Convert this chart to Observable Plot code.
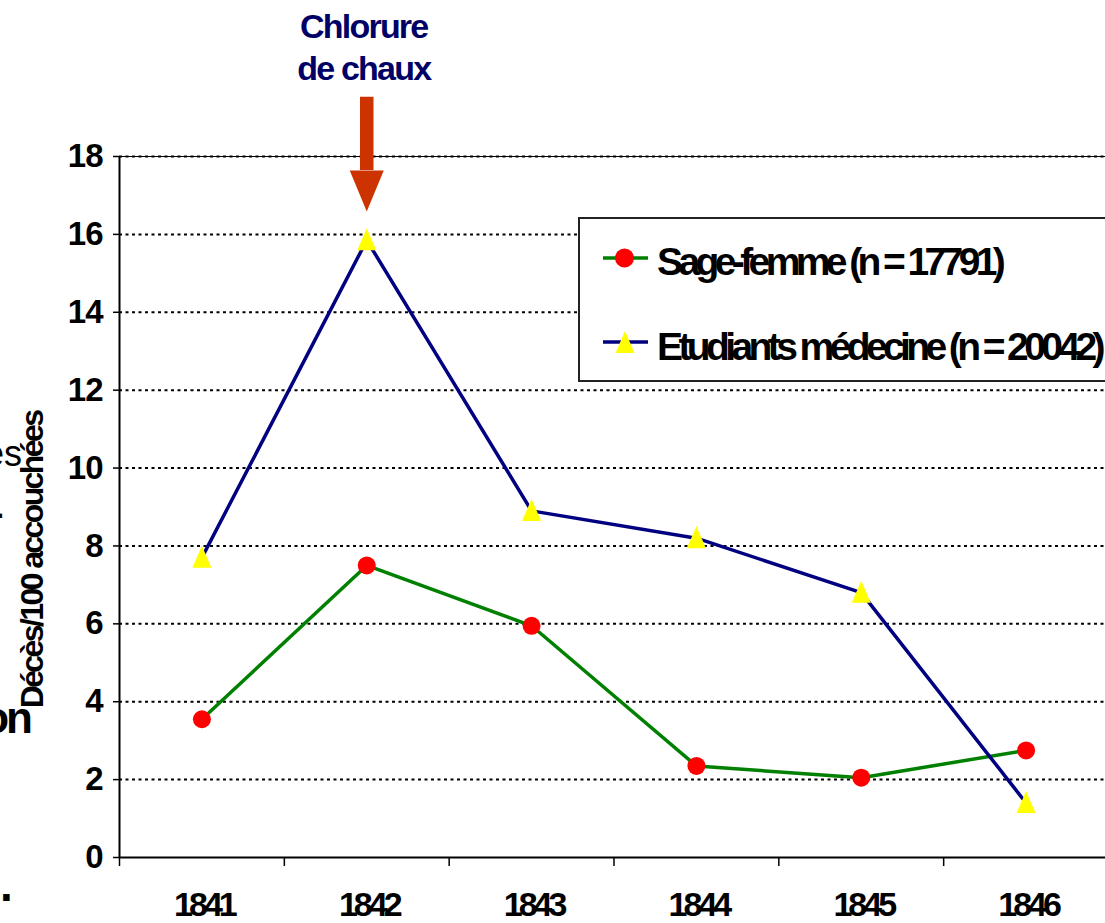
<!DOCTYPE html>
<html><head><meta charset="utf-8">
<script src="https://cdn.jsdelivr.net/npm/d3@7"></script>
<script src="https://cdn.jsdelivr.net/npm/@observablehq/plot@0.6"></script>
<style>
html,body{margin:0;padding:0;background:#fff;overflow:hidden}
#wrap{position:relative;width:1105px;height:923px;overflow:hidden;background:#fff}
#wrap > svg{position:absolute;left:0;top:0}
</style></head><body><div id="wrap"></div>
<script>
// ---- data ----
const years = [1841, 1842, 1843, 1844, 1845, 1846];
const sageFemme = [3.55, 7.5, 5.95, 2.35, 2.05, 2.75];
const etudiants = [7.7, 15.85, 8.9, 8.2, 6.8, 1.4];
const yTicks = [0, 2, 4, 6, 8, 10, 12, 14, 16, 18];
const seriesNames = ["Sage-femme (n = 17791)", "Etudiants médecine (n = 20042)"];
const seriesColors = ["#008000", "#000080"];
const markerColors = ["#ff0000", "#ffff00"];
const yLabel = "Décès/100 accouchées";
const annotationLines = ["Chlorure", "de chaux"];
const annotationYear = 1842;
const annotationY = [21.33, 20.25];   // text line centres (data units)
const arrowY = [19.52, 17.64];        // shaft top, head base (data units)
const ghostTexts = ["es", ".", "on", "."];

// ---- chart ----
const F = "'Liberation Sans', Arial, sans-serif";
const xDomain = [years[0] - 0.5, years[years.length - 1] + 0.5];
const boundaries = years.map(y => y - 0.5);
const idx = d3.range(years.length);
const triangle = {draw(c) { c.moveTo(0, -12); c.lineTo(9.5, 10); c.lineTo(-9.5, 10); c.closePath(); }};
const arrowHead = {draw(c) { c.moveTo(-17, 0); c.lineTo(17, 0); c.lineTo(0, 41); c.closePath(); }};

const chart = Plot.plot({
  width: 1105, height: 923,
  marginLeft: 119, marginRight: -3, marginTop: 156, marginBottom: 66,
  x: {type: "linear", domain: xDomain},
  y: {domain: [0, 18]},
  style: {fontFamily: F, background: "white", overflow: "visible"},
  marks: [
    Plot.ruleY(yTicks.filter(v => v > 0), {y: d => d, stroke: "#000", strokeWidth: 2, strokeDasharray: "3,3.5"}),
    Plot.ruleY([yTicks[yTicks.length - 1]], {y: d => d, stroke: "#000", strokeWidth: 1}),
    Plot.ruleY([0], {y: d => d, stroke: "#000", strokeWidth: 2}),
    Plot.ruleX([xDomain[0]], {x: d => d, y1: 0, y2: 18, stroke: "#000", strokeWidth: 2}),
    Plot.axisY({ticks: yTicks, tickSize: 6, tickFormat: () => "", strokeWidth: 1.5}),
    Plot.axisX({ticks: boundaries, tickSize: 9, tickFormat: () => "", strokeWidth: 1.5}),
    Plot.text(yTicks, {y: d => d, frameAnchor: "left", dx: -17, textAnchor: "end", text: d => String(d),
      fontSize: 33, fontWeight: "bold", fill: "#000"}),
    Plot.text(years, {x: d => d, frameAnchor: "bottom", dy: 34, dx: 2, lineAnchor: "top", text: d => String(d),
      fontSize: 34, fontWeight: "bold", fill: "#000"}),
    Plot.line(idx, {x: i => years[i], y: i => sageFemme[i], stroke: seriesColors[0], strokeWidth: 3.5}),
    Plot.dot(idx, {x: i => years[i], y: i => sageFemme[i], r: 9, fill: markerColors[0]}),
    Plot.line(idx, {x: i => years[i], y: i => etudiants[i], stroke: seriesColors[1], strokeWidth: 3.5}),
    Plot.dot(idx, {x: i => years[i], y: i => etudiants[i], symbol: triangle, fill: markerColors[1]}),
    Plot.ruleX([annotationYear], {x: d => d, y1: () => arrowY[0], y2: () => arrowY[1], stroke: "#cc3300", strokeWidth: 13.5}),
    Plot.dot([annotationYear], {x: d => d, y: () => arrowY[1], symbol: arrowHead, fill: "#cc3300"}),
    Plot.text(annotationLines, {x: () => annotationYear, y: (d, i) => annotationY[i], text: d => d, dx: -3,
      fontSize: 34, fontWeight: "bold", fill: "#000066"})
  ]
});
// condensed lettering, matched by content
const yearStr = years.map(String);
d3.select(chart).selectAll("text").each(function() {
  const t = this.textContent;
  if (yearStr.includes(t)) this.style.letterSpacing = "-4px";
  else if (annotationLines.includes(t)) this.style.letterSpacing = "-1.8px";
  else if (/^\d+$/.test(t)) this.style.letterSpacing = "-1px";
});

const wrap = document.getElementById("wrap");
wrap.appendChild(chart);

// ---- overlay: axis title, legend, clipped fragments ----
const ov = d3.create("svg").attr("width", 1105).attr("height", 923)
  .style("font-family", F).style("font-weight", "bold");

// clipped fragments at the left edge
ov.append("text").attr("x", 22).attr("y", 466).attr("text-anchor", "end").attr("font-size", 36)
  .attr("font-weight", "normal").text(ghostTexts[0]);
ov.append("text").attr("x", 4).attr("y", 518).attr("text-anchor", "end").attr("font-size", 30).text(ghostTexts[1]);
ov.append("text").attr("x", 30).attr("y", 733).attr("text-anchor", "end").attr("font-size", 44)
  .style("letter-spacing", "-3px").text(ghostTexts[2]);
ov.append("text").attr("x", 0).attr("y", 901).attr("font-size", 46).text(ghostTexts[3]);

// y axis title
ov.append("text").attr("transform", "translate(43,560) rotate(-90)").attr("text-anchor", "middle")
  .attr("font-size", 32).style("letter-spacing", "-2.6px").text(yLabel);

// legend
const lg = ov.append("g");
lg.append("rect").attr("x", 579).attr("y", 218).attr("width", 560).attr("height", 163)
  .attr("fill", "white").attr("stroke", "#222").attr("stroke-width", 2);
const rowY = [258, 342];
const textY = [275, 360];
seriesNames.forEach((name, i) => {
  lg.append("line").attr("x1", 603).attr("x2", 648).attr("y1", rowY[i]).attr("y2", rowY[i])
    .attr("stroke", seriesColors[i]).attr("stroke-width", 3.5);
  if (i === 0) {
    lg.append("circle").attr("cx", 624.5).attr("cy", rowY[i]).attr("r", 9.5).attr("fill", markerColors[i]);
  } else {
    lg.append("path").attr("transform", `translate(625,${rowY[i] + 1})`)
      .attr("d", d3.symbol(triangle)()).attr("fill", markerColors[i]);
  }
  lg.append("text").attr("x", 657).attr("y", textY[i]).attr("font-size", 39)
    .style("letter-spacing", "-4.6px").attr("fill", "#000").text(name);
});
wrap.appendChild(ov.node());
</script></body></html>
